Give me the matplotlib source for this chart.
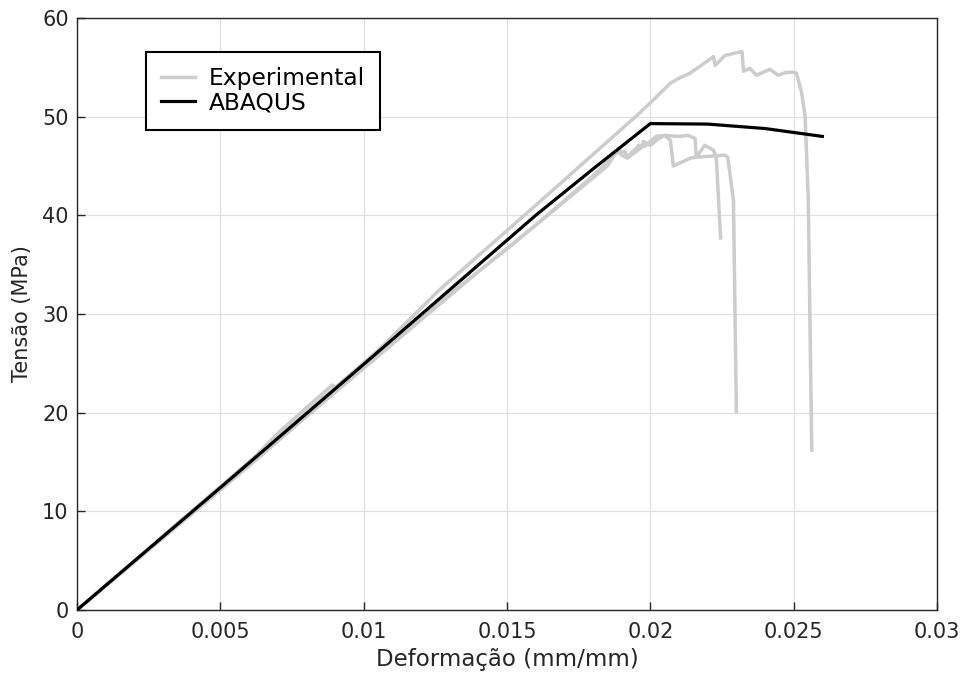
import matplotlib
matplotlib.use("Agg")
import matplotlib.pyplot as plt

plt.rcParams['font.family'] = ['DejaVu Sans']

# Numerical model (ABAQUS)
abaqus_strain = [0.0, 0.005, 0.010, 0.016, 0.018, 0.020, 0.022, 0.024, 0.026]
abaqus_stress = [0.0, 12.4, 24.9, 40.0, 44.7, 49.3, 49.25, 48.8, 48.0]

# Experimental specimen 1 (highest strength)
exp1_strain = [0.0, 0.005, 0.0105, 0.0127, 0.0158, 0.0196, 0.0200, 0.0207, 0.0210,
               0.02138, 0.02197, 0.0222, 0.02226, 0.0226, 0.0232, 0.02325, 0.02347,
               0.0237, 0.02417, 0.02446, 0.02475, 0.02499, 0.0251, 0.02528, 0.0254,
               0.02551, 0.02563]
exp1_stress = [0.0, 12.5, 26.3, 32.6, 40.5, 50.3, 51.4, 53.4, 53.9,
               54.4, 55.6, 56.1, 55.2, 56.2, 56.6, 54.6, 54.9,
               54.2, 54.8, 54.2, 54.5, 54.5, 54.4, 52.4, 50.0,
               41.5, 16.2]

# Experimental specimen 2
exp2_strain = [0.0, 0.002, 0.004, 0.006, 0.007, 0.0089, 0.0091, 0.011, 0.013, 0.015,
               0.017, 0.0185, 0.0189, 0.0190, 0.0192, 0.0197, 0.01975, 0.0200,
               0.0203, 0.0205, 0.0210, 0.02132, 0.02156, 0.0216, 0.0226, 0.0227,
               0.0229, 0.0230]
exp2_stress = [0.0, 4.9, 9.8, 14.9, 17.9, 22.8, 22.4, 27.2, 32.0, 36.6,
               41.4, 45.0, 46.8, 46.1, 45.8, 46.9, 47.5, 47.1,
               47.8, 48.1, 48.0, 48.1, 47.8, 45.9, 46.1, 45.9,
               41.5, 20.1]

# Experimental specimen 3
exp3_strain = [0.0, 0.003, 0.006, 0.008, 0.010, 0.012, 0.014, 0.016, 0.018, 0.0188,
               0.0191, 0.0192, 0.0196, 0.0198, 0.0202, 0.0205, 0.0207, 0.0208,
               0.0214, 0.0216, 0.0219, 0.0222, 0.0223, 0.02245]
exp3_stress = [0.0, 7.3, 14.6, 19.6, 24.5, 29.4, 34.3, 39.0, 44.0, 46.3,
               46.5, 45.9, 47.1, 47.0, 48.0, 48.1, 47.6, 45.0,
               45.8, 45.9, 47.1, 46.6, 45.9, 37.7]

x_ticks = [0, 0.005, 0.01, 0.015, 0.02, 0.025, 0.03]
x_tick_labels = ['0', '0.005', '0.01', '0.015', '0.02', '0.025', '0.03']
y_ticks = [0, 10, 20, 30, 40, 50, 60]

fig = plt.figure(figsize=(9.71, 6.75), dpi=100)
ax = fig.add_axes([0.0793, 0.0963, 0.8857, 0.877])

gray = '#cccccc'
ax.plot(exp1_strain, exp1_stress, color=gray, lw=2.5, label='Experimental', zorder=2)
ax.plot(exp2_strain, exp2_stress, color=gray, lw=2.5, zorder=2)
ax.plot(exp3_strain, exp3_stress, color=gray, lw=2.5, zorder=2)
ax.plot(abaqus_strain, abaqus_stress, color='black', lw=2.3, label='ABAQUS', zorder=3)

ax.set_xlim(0, 0.03)
ax.set_ylim(0, 60)
ax.set_xticks(x_ticks)
ax.set_xticklabels(x_tick_labels)
ax.set_yticks(y_ticks)

ax.grid(True, color='#e0e0e0', lw=0.9)
ax.set_axisbelow(True)
for s in ax.spines.values():
    s.set_color('#262626')
    s.set_linewidth(1.0)
ax.tick_params(direction='in', length=6, width=1, colors='#262626', labelsize=15)
ax.tick_params(axis='x', pad=9)
ax.tick_params(axis='y', pad=6)

ax.set_xlabel('Deformação (mm/mm)', fontsize=16.5, color='#262626', labelpad=4)
ax.set_ylabel('Tensão (MPa)', fontsize=15, color='#262626', labelpad=7)

leg = ax.legend(loc='upper left', bbox_to_anchor=(0.080, 0.9426), borderaxespad=0,
                fontsize=16.8, frameon=True, fancybox=False, edgecolor='black',
                framealpha=1, borderpad=0.65, handlelength=1.45, handletextpad=0.6,
                labelspacing=0.05)
leg.get_frame().set_linewidth(1.5)

fig.savefig('out.png', dpi=100)
